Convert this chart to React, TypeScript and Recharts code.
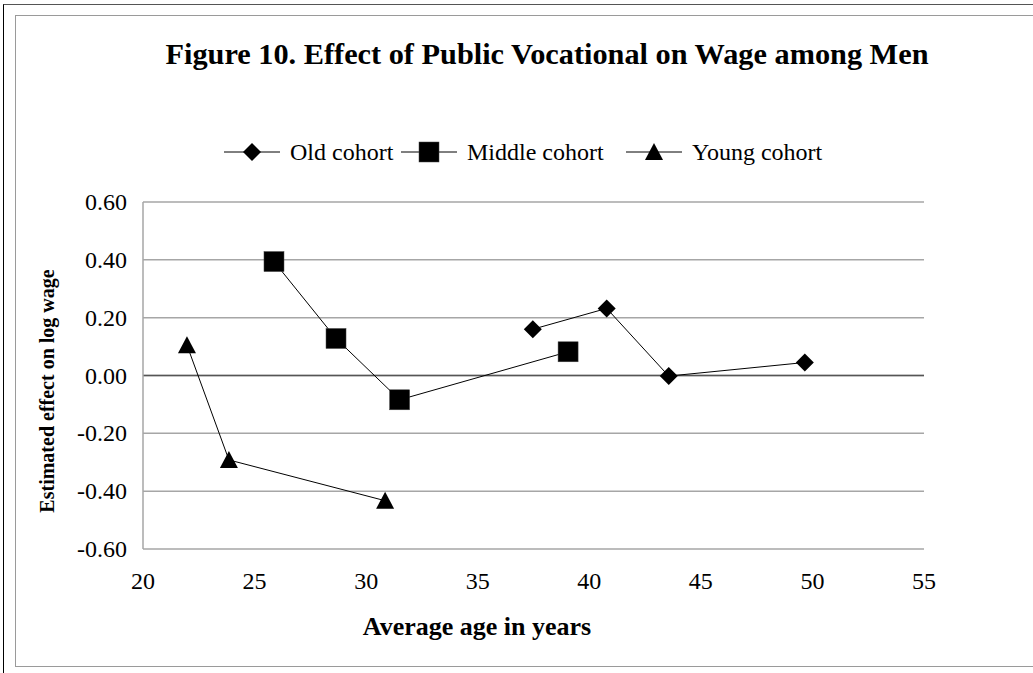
import { ScatterChart, Scatter, XAxis, YAxis, CartesianGrid, ReferenceLine } from "recharts";

const xTicks = [20, 25, 30, 35, 40, 45, 50, 55];
const yTicks = [-0.6, -0.4, -0.2, 0, 0.2, 0.4, 0.6];

const oldCohort = [
  { age: 37.47, effect: 0.16 },
  { age: 40.78, effect: 0.232 },
  { age: 43.56, effect: -0.002 },
  { age: 49.66, effect: 0.045 },
];
const middleCohort = [
  { age: 25.87, effect: 0.394 },
  { age: 28.65, effect: 0.128 },
  { age: 31.5, effect: -0.084 },
  { age: 39.05, effect: 0.082 },
];
const youngCohort = [
  { age: 21.97, effect: 0.105 },
  { age: 23.85, effect: -0.292 },
  { age: 30.85, effect: -0.433 },
];

const serif = '"Liberation Serif", "Times New Roman", serif';

function Diamond({ cx, cy }: any) {
  return <path d={`M${cx},${cy - 9}L${cx + 9},${cy}L${cx},${cy + 9}L${cx - 9},${cy}Z`} fill="#000" />;
}
function Square({ cx, cy }: any) {
  return <rect x={cx - 10} y={cy - 10} width={20} height={20} fill="#000" stroke="#444" strokeWidth={0.5} />;
}
function Triangle({ cx, cy }: any) {
  return <path d={`M${cx},${cy - 9}L${cx + 9},${cy + 8}L${cx - 9},${cy + 8}Z`} fill="#000" />;
}

function XTick({ x, y, payload }: any) {
  return (
    <text x={x} y={y} dy={17} textAnchor="middle" fill="#000" fontFamily={serif} fontSize={24}>
      {payload.value}
    </text>
  );
}
function YTick({ x, y, payload }: any) {
  return (
    <text x={x} y={y} dy={8} textAnchor="end" fill="#000" fontFamily={serif} fontSize={24}>
      {Number(payload.value).toFixed(2)}
    </text>
  );
}

const legendItems = [
  { label: "Old cohort", Shape: Diamond, left: 224 },
  { label: "Middle cohort", Shape: Square, left: 401 },
  { label: "Young cohort", Shape: Triangle, left: 626 },
];

function ChartLegend() {
  return (
    <>
      {legendItems.map(({ label, Shape, left }) => (
        <div key={label} style={{ position: "absolute", left, top: 138, display: "flex", alignItems: "center", fontFamily: serif, fontSize: 24, lineHeight: "28px", whiteSpace: "nowrap" }}>
          <svg width={56} height={24}>
            <line x1={0} y1={12} x2={56} y2={12} stroke="#000" strokeWidth={1} />
            <Shape cx={28} cy={12} />
          </svg>
          <span style={{ marginLeft: 10 }}>{label}</span>
        </div>
      ))}
    </>
  );
}

export default function App() {
  return (
    <div style={{ position: "absolute", left: 0, top: 0, width: 1033, height: 673, background: "#fff", overflow: "hidden", fontFamily: serif }}>
      {/* outer frame */}
      <div style={{ position: "absolute", left: 3, top: 4, right: 0, bottom: 0, borderTop: "1.5px solid #555", borderLeft: "1.5px solid #000" }} />
      {/* inner frame */}
      <div style={{ position: "absolute", left: 15, top: 15, width: 1100, height: 650, border: "1.5px solid #9a9a9a" }} />

      <div style={{ position: "absolute", left: 0, top: 36, width: 1094, textAlign: "center", fontWeight: "bold", fontSize: 30.3, lineHeight: "36px", whiteSpace: "nowrap" }}>
        Figure 10. Effect of Public Vocational on Wage among Men
      </div>

      <ChartLegend />

      <div style={{ position: "absolute", left: 0, top: 0 }}>
        <ScatterChart width={1033} height={673} margin={{ top: 202, right: 109, bottom: 64, left: 43 }}>
          <CartesianGrid vertical={false} stroke="#a6a6a6" strokeWidth={1.5} />
          <XAxis
            type="number"
            dataKey="age"
            domain={[20, 55]}
            ticks={xTicks}
            axisLine={false}
            tickLine={false}
            tickSize={0}
            tickMargin={23}
            height={60}
            tick={<XTick />}
          />
          <YAxis
            type="number"
            dataKey="effect"
            domain={[-0.6, 0.6]}
            ticks={yTicks}
            width={100}
            axisLine={{ stroke: "#a6a6a6", strokeWidth: 1.5 }}
            tickLine={false}
            tickSize={0}
            tickMargin={16}
            tick={<YTick />}
          />
          <ReferenceLine y={0} stroke="#555" strokeWidth={1.5} />
          <Scatter name="Old cohort" data={oldCohort} line={{ stroke: "#000", strokeWidth: 1 }} shape={Diamond} isAnimationActive={false} />
          <Scatter name="Middle cohort" data={middleCohort} line={{ stroke: "#000", strokeWidth: 1 }} shape={Square} isAnimationActive={false} />
          <Scatter name="Young cohort" data={youngCohort} line={{ stroke: "#000", strokeWidth: 1 }} shape={Triangle} isAnimationActive={false} />
        </ScatterChart>
      </div>

      <div style={{ position: "absolute", left: 477, top: 627, transform: "translate(-50%, -50%)", fontWeight: "bold", fontSize: 26, whiteSpace: "nowrap" }}>
        Average age in years
      </div>
      <div style={{ position: "absolute", left: 47, top: 391, transform: "translate(-50%, -50%) rotate(-90deg)", fontWeight: "bold", fontSize: 20, whiteSpace: "nowrap" }}>
        Estimated effect on log wage
      </div>
    </div>
  );
}
